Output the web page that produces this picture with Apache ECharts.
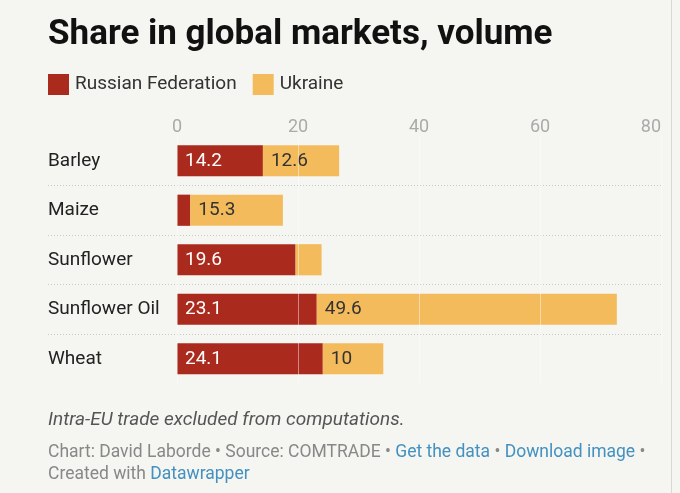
<!DOCTYPE html>
<html>
<head>
<meta charset="utf-8">
<script src="https://cdn.jsdelivr.net/npm/echarts@6/dist/echarts.min.js"></script>
<style>
  html, body { margin: 0; padding: 0; background: #f5f5f1; }
  #chart { width: 680px; height: 493px; }
</style>
</head>
<body>
<div id="chart"></div>
<script>
const categories = ['Barley', 'Maize', 'Sunflower', 'Sunflower Oil', 'Wheat'];
const russia = [14.2, 2.2, 19.6, 23.1, 24.1];
const ukraine = [12.6, 15.3, 4.3, 49.6, 10];
const xTicks = { min: 0, max: 80, interval: 20 };
const seriesNames = ['Russian Federation', 'Ukraine'];
const colors = ['#ab2a1e', '#f4bb5c'];

const FONT = 'Roboto';
const chart = echarts.init(document.getElementById('chart'), null, { renderer: 'canvas' });

function labelFmt(p) { return p.value >= 8 ? String(p.value) : ''; }

chart.setOption({
  backgroundColor: '#f5f5f1',
  animation: false,
  textStyle: { fontFamily: FONT },
  title: [
    {
      text: 'Share in global markets, volume',
      left: 43, top: 13,
      textStyle: { fontFamily: FONT, fontWeight: 'bold', fontSize: 35, color: '#111' }
    },
    {
      text: 'Intra-EU trade excluded from computations.',
      left: 43, top: 406,
      textStyle: { fontFamily: FONT, fontStyle: 'italic', fontWeight: 'normal', fontSize: 19, color: '#555' }
    },
    {
      text: '{g|Chart: David Laborde • Source: COMTRADE • }{b|Get the data}{g| • }{b|Download image}{g| •}\n{g|Created with }{b|Datawrapper}',
      left: 43, top: 437,
      textStyle: {
        fontFamily: FONT, fontSize: 17.5, lineHeight: 22, fontWeight: 'normal',
        rich: {
          g: { color: '#888', fontSize: 17.5, fontWeight: 'normal', fontFamily: FONT, lineHeight: 22 },
          b: { color: '#4391c0', fontSize: 17.5, fontWeight: 'normal', fontFamily: FONT, lineHeight: 22 }
        }
      }
    }
  ],
  legend: {
    left: 43, top: 69,
    itemWidth: 21, itemHeight: 21, itemGap: 16,
    icon: 'rect',
    data: seriesNames,
    textStyle: { fontFamily: FONT, fontSize: 19, color: '#333', padding: [0, 0, 0, 1] }
  },
  grid: [
    { left: 48, right: 19, top: 185.5, height: 148.5, containLabel: false },
    { left: 177, right: 19, top: 136, height: 247.5, containLabel: false }
  ],
  xAxis: [
    { gridIndex: 0, type: 'value', min: 0, max: 1, show: false },
    {
      gridIndex: 1, type: 'value', position: 'top',
      min: xTicks.min, max: xTicks.max, interval: xTicks.interval,
      z: 10,
      axisLine: { show: false }, axisTick: { show: false },
      axisLabel: { color: '#aaa', fontSize: 18, fontFamily: FONT, margin: 0, alignMaxLabel: 'right' },
      splitLine: { show: true, lineStyle: { color: 'rgba(255,255,255,0.45)', width: 1 } }
    }
  ],
  yAxis: [
    {
      gridIndex: 0, type: 'value', min: 0, max: 3, interval: 1, inverse: true,
      axisLine: { show: false }, axisTick: { show: false }, axisLabel: { show: false },
      splitLine: { show: true, lineStyle: { color: '#c8c8c4', width: 1, type: [1, 2] } }
    },
    {
      gridIndex: 1, type: 'category', data: categories, inverse: true,
      axisLine: { show: false }, axisTick: { show: false }, splitLine: { show: false },
      axisLabel: { align: 'left', margin: 129, fontSize: 19, color: '#222', fontFamily: FONT, padding: [3, 0, 0, 0] }
    }
  ],
  series: [
    {
      name: seriesNames[0], type: 'bar', stack: 'total', xAxisIndex: 1, yAxisIndex: 1,
      data: russia, barCategoryGap: '37%', itemStyle: { color: colors[0] },
      label: { show: true, position: 'insideLeft', distance: 8, formatter: labelFmt,
               color: '#fff', fontSize: 19, fontFamily: FONT }
    },
    {
      name: seriesNames[1], type: 'bar', stack: 'total', xAxisIndex: 1, yAxisIndex: 1,
      data: ukraine, barCategoryGap: '37%', itemStyle: { color: colors[1] },
      label: { show: true, position: 'insideLeft', distance: 8, formatter: labelFmt,
               color: '#333', fontSize: 19, fontFamily: FONT }
    }
  ],
  graphic: [
    { type: 'line', shape: { x1: 671.5, y1: 0, x2: 671.5, y2: 493 }, style: { stroke: '#d8d8d4', lineWidth: 1 } }
  ]
});
</script>
</body>
</html>
